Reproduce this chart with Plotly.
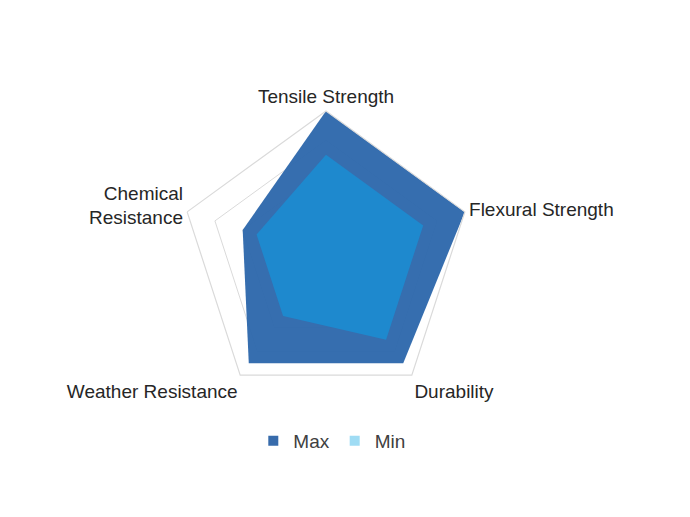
import plotly.graph_objects as go

categories = ["Tensile Strength", "Flexural Strength", "Durability",
              "Weather Resistance", "Chemical<br>Resistance"]
max_values = [5, 5, 4.5, 4.5, 3]
min_values = [3.5, 3.5, 3.5, 2.5, 2.5]
series_names = ["Max", "Min"]

fill_colors = ["rgba(46,104,172,0.96)", "rgba(30,137,206,1)"]
legend_colors = ["#376BAB", "#9FDCF4"]

fig = go.Figure()
for name, vals, fc in zip(series_names, [max_values, min_values], fill_colors):
    fig.add_trace(go.Scatterpolar(
        r=vals + vals[:1], theta=categories + categories[:1],
        mode="lines", fill="toself", fillcolor=fc,
        line=dict(color=fc, width=0), name=name, showlegend=False,
        hoverinfo="skip"))
for name, lc in zip(series_names, legend_colors):
    fig.add_trace(go.Scatterpolar(
        r=[None], theta=[categories[0]], mode="markers", name=name,
        marker=dict(symbol="square", size=10, color=lc), showlegend=True))

W, H = 690, 517
cx, cy, R = 318, 249, 146
fig.update_layout(
    width=W, height=H,
    margin=dict(l=0, r=0, t=0, b=0),
    paper_bgcolor="white", plot_bgcolor="white",
    font=dict(family="Liberation Sans, Arial, sans-serif", size=19, color="#262626"),
    polar=dict(
        domain=dict(x=[(cx - R) / W, (cx + R) / W], y=[1 - (cy + R) / H, 1 - (cy - R) / H]),
        bgcolor="white",
        gridshape="linear",
        radialaxis=dict(range=[0, 5], dtick=1, showticklabels=False, ticks="",
                        showline=False, gridcolor="#DADADA", gridwidth=1.2),
        angularaxis=dict(direction="clockwise", rotation=90, showgrid=False,
                         showline=True, linecolor="#DADADA", linewidth=1.2,
                         ticks="", tickfont=dict(size=19, color="#262626"),
                         categoryorder="array", categoryarray=categories),
    ),
    legend=dict(orientation="h", x=0.47, xanchor="center", y=1 - 433 / H, yanchor="middle",
                font=dict(size=19, color="#404040"), itemwidth=30, tracegroupgap=0,
                bgcolor="rgba(0,0,0,0)"),
)
fig.write_html("out.html")
